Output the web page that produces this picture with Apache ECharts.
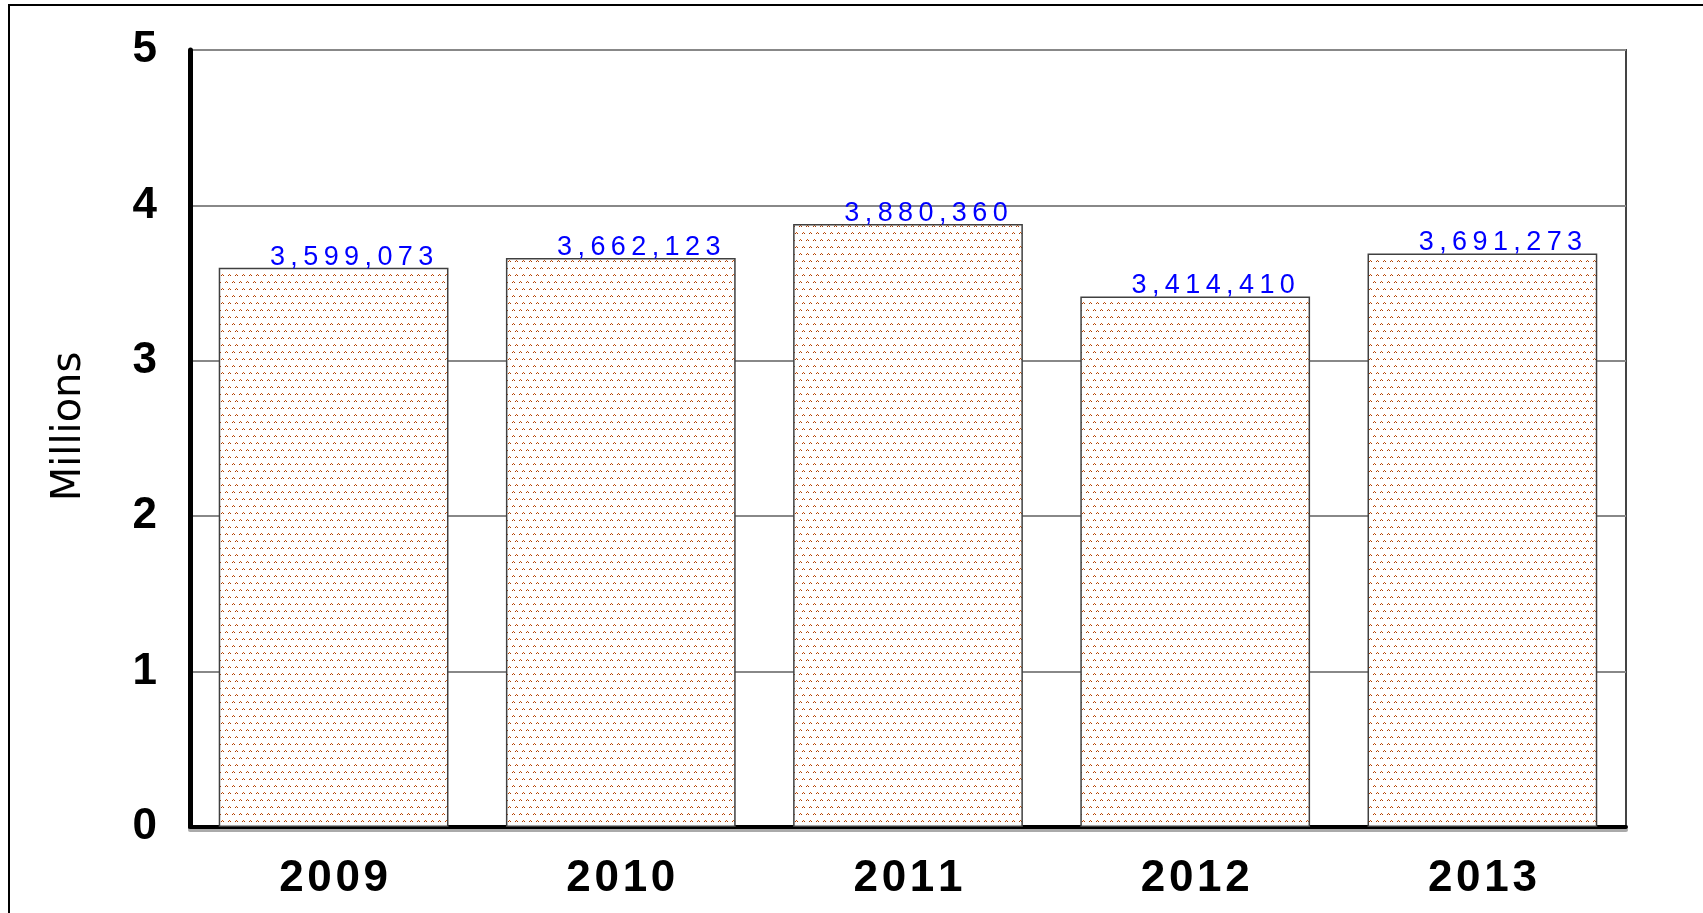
<!DOCTYPE html>
<html>
<head>
<meta charset="utf-8">
<style>
  html, body { margin: 0; padding: 0; background: #fff; }
  #chart { width: 1703px; height: 913px; }
</style>
<script src="https://cdn.jsdelivr.net/npm/echarts@6/dist/echarts.min.js"></script>
</head>
<body>
<div id="chart"></div>
<script>
// data
var years = ['2009', '2010', '2011', '2012', '2013']
var totals = [3599073, 3662123, 3880360, 3414410, 3691273]
var yTicks = [0, 1, 2, 3, 4, 5]

// spread characters a little, like the original
function spaced (s, gap) {
  return String(s).split('').join(gap || '\u2009')
}

// dotted orange fill
function dotPattern () {
  var c = document.createElement('canvas')
  c.width = 7
  c.height = 14
  var ctx = c.getContext('2d')
  ctx.fillStyle = '#ffffff'
  ctx.fillRect(0, 0, 7, 14)
  ctx.fillStyle = '#d45a10'
  ctx.fillRect(2, 1, 1, 1)
  ctx.fillStyle = '#a83c00'
  ctx.fillRect(1, 2, 1, 1)
  ctx.fillRect(3, 2, 1, 1)
  ctx.fillStyle = '#d45a10'
  ctx.fillRect(5, 8, 1, 1)
  ctx.fillStyle = '#a83c00'
  ctx.fillRect(4, 9, 1, 1)
  ctx.fillRect(6, 9, 1, 1)
  return c
}

var chart = echarts.init(document.getElementById('chart'))
chart.setOption({
  animation: false,
  backgroundColor: '#fff',
  graphic: [
    {
      type: 'rect',
      shape: { x: 9, y: 5, width: 1800, height: 1000 },
      style: { fill: 'none', stroke: '#000', lineWidth: 2 },
      silent: true
    }
  ],
  grid: {
    left: 190,
    right: 77,
    top: 50,
    bottom: 86,
    show: true,
    borderColor: '#444',
    borderWidth: 2
  },
  xAxis: {
    type: 'category',
    data: years,
    axisLine: {
      lineStyle: {
        color: '#000',
        width: 4,
        shadowColor: '#aaa',
        shadowOffsetY: 3,
        shadowBlur: 0
      }
    },
    axisTick: { show: false },
    axisLabel: {
      margin: 30,
      fontFamily: 'Liberation Sans',
      fontWeight: 'bold',
      fontSize: 44,
      color: '#000',
      formatter: function (v) { return spaced(v, '\u200a') }
    }
  },
  yAxis: {
    type: 'value',
    min: yTicks[0],
    max: yTicks[yTicks.length - 1],
    interval: 1,
    name: 'Millions',
    nameLocation: 'middle',
    nameGap: 100,
    nameRotate: 90,
    nameTextStyle: {
      fontFamily: 'DejaVu Sans',
      fontSize: 40,
      color: '#000',
      padding: [0, 0, 0, 24]
    },
    axisLine: { show: true, lineStyle: { color: '#000', width: 5 } },
    axisTick: { show: false },
    axisLabel: {
      margin: 33,
      fontFamily: 'Liberation Sans',
      fontWeight: 'bold',
      fontSize: 44,
      color: '#000'
    },
    splitLine: { lineStyle: { color: '#888', width: 2 } }
  },
  series: [
    {
      type: 'bar',
      data: totals.map(function (v) { return v / 1e6 }),
      barCategoryGap: '20%',
      itemStyle: {
        color: { image: dotPattern(), repeat: 'repeat' },
        borderColor: '#404040',
        borderWidth: 1.5
      },
      label: {
        show: true,
        position: 'top',
        distance: -3,
        offset: [18, 0],
        fontFamily: 'Liberation Sans',
        fontSize: 27,
        color: '#0000ff',
        formatter: function (p) {
          return spaced(totals[p.dataIndex].toLocaleString('en-US'))
        }
      }
    }
  ]
})
</script>
</body>
</html>
